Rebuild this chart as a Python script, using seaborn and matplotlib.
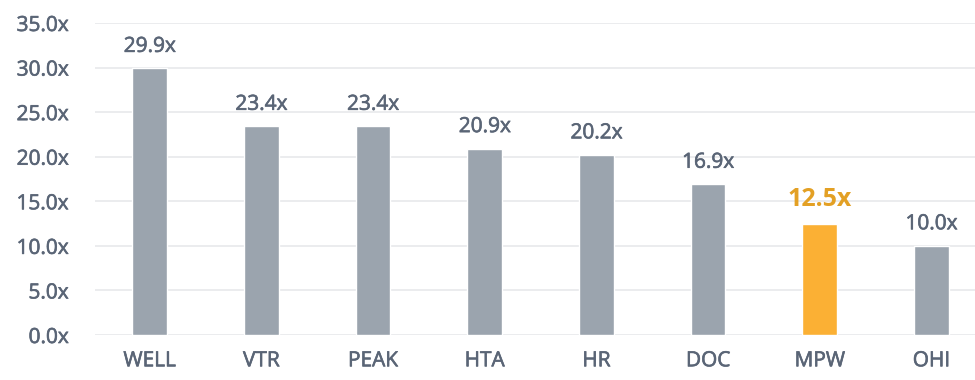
import matplotlib
matplotlib.use("Agg")
import matplotlib.pyplot as plt
import matplotlib.patheffects as pe
import seaborn as sns
import pandas as pd

categories = ["WELL", "VTR", "PEAK", "HTA", "HR", "DOC", "MPW", "OHI"]
values = [29.9, 23.4, 23.4, 20.9, 20.2, 16.9, 12.5, 10.0]
highlight = "MPW"
yticks = [0, 5, 10, 15, 20, 25, 30, 35]

sns.set_theme(style="white")
plt.rcParams['font.family'] = ['Open Sans', 'DejaVu Sans']

GRAY = "#9ba4ae"
ORANGE = "#fbb034"
TEXT = "#5a6576"
ORANGE_TEXT = "#e3a024"

df = pd.DataFrame({"cat": categories, "val": values})
palette = {c: (ORANGE if c == highlight else GRAY) for c in categories}

fig = plt.figure(figsize=(9.75, 3.8), dpi=100)
ax = fig.add_axes([0.0974, 0.1184, 0.9026, 0.8211])
sns.barplot(data=df, x="cat", y="val", hue="cat", palette=palette, width=0.31,
            legend=False, ax=ax, saturation=1, zorder=3)

ax.set_ylim(0, 35)
ax.set_xlim(-0.49, 7.39)
ax.set_yticks(yticks)
ax.set_yticklabels([f"{t:.1f}x" for t in yticks])
ax.yaxis.grid(True, color="#e8e9eb", linewidth=1.2, zorder=0)
ax.set_axisbelow(True)
for s in ax.spines.values():
    s.set_visible(False)
ax.set_xlabel("")
ax.set_ylabel("")
ax.tick_params(axis="y", labelsize=15, labelcolor=TEXT, length=0, pad=19)
ax.tick_params(axis="x", labelsize=15, labelcolor=TEXT, length=0, pad=11)
thick = [pe.withStroke(linewidth=0.45, foreground=TEXT)]
for lab in ax.get_xticklabels() + ax.get_yticklabels():
    lab.set_path_effects(thick)

for i, (c, v) in enumerate(zip(categories, values)):
    if c == highlight:
        ax.text(i, v + 1.3, f"{v:.1f}x", ha="center", va="bottom", fontsize=18,
                fontweight="bold", color=ORANGE_TEXT)
    else:
        ax.text(i, v + 1.3, f"{v:.1f}x", ha="center", va="bottom", fontsize=15,
                color=TEXT, path_effects=thick)

fig.savefig("out.png", dpi=100)
